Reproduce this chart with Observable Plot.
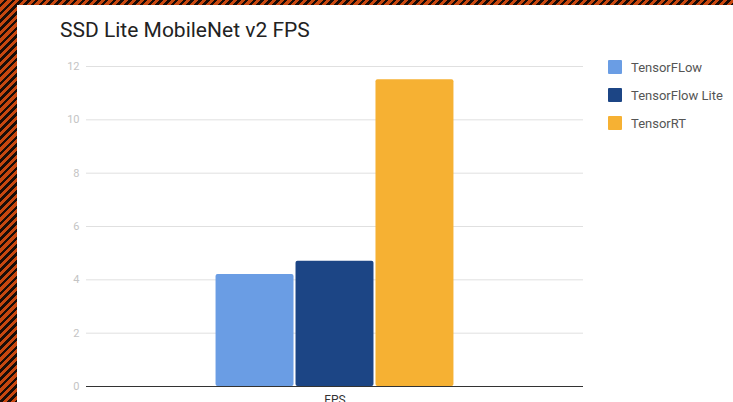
<!DOCTYPE html>
<html>
<head>
<meta charset="utf-8">
<script src="https://cdn.jsdelivr.net/npm/d3@7"></script>
<script src="https://cdn.jsdelivr.net/npm/@observablehq/plot@0.6"></script>
<style>
  html { margin: 0; padding: 0; background: #fff; width: 733px; height: 402px; overflow: hidden; }
  body {
    margin: 0; padding: 0; background: #fff;
    width: 733px; height: 402px; overflow: hidden; position: relative;
    font-family: Roboto, "Noto Sans", sans-serif;
  }
  .hatch {
    position: absolute;
    background: repeating-linear-gradient(135deg, #c8470f 0px, #c8470f 3px, #1a0d08 3px, #1a0d08 5.5px);
    background-attachment: fixed;
  }
  #hatch-left { left: 0; top: 0; width: 17px; height: 402px; }
  #hatch-top { left: 0; top: 0; width: 733px; height: 5px; }
  #panel {
    position: absolute; left: 17px; top: 5px; width: 716px; height: 397px;
    background: #fff;
  }
  #title {
    position: absolute; left: 43px; top: 13px;
    font-size: 21px; color: #222; white-space: nowrap;
  }
  #chart { position: absolute; left: 0; top: 0; }
  #legend { position: absolute; left: 591px; top: 48px; }
  .item { display: flex; align-items: center; height: 28px; font-size: 13px; color: #555; }
  .swatch { width: 14px; height: 14px; margin-right: 9px; border-radius: 1px; }
</style>
</head>
<body>
<div class="hatch" id="hatch-left"></div>
<div class="hatch" id="hatch-top"></div>
<div id="panel">
  <div id="title">SSD Lite MobileNet v2 FPS</div>
  <div id="chart"></div>
  <div id="legend"></div>
</div>
<script>
// Frames per second for each runtime
const category = "FPS";
const series = ["TensorFLow", "TensorFlow Lite", "TensorRT"];
const fps = [4.2, 4.7, 11.5];
const colors = ["#6a9de4", "#1c4585", "#f6b133"];
const yTicks = [0, 2, 4, 6, 8, 10, 12];

const rows = series.map((s, i) => ({group: category, series: s, value: fps[i]}));

const chart = Plot.plot({
  width: 716,
  height: 397,
  marginTop: 61,
  marginBottom: 16,
  marginLeft: 69,
  marginRight: 150,
  style: {background: "transparent", fontFamily: "Roboto, sans-serif", overflow: "visible"},
  fx: {domain: [category], label: null, padding: 0},
  x: {domain: series, paddingInner: 0.025, paddingOuter: 1.62, round: false, axis: null},
  y: {domain: [0, 12], label: null},
  color: {domain: series, range: colors},
  marks: [
    Plot.ruleY(yTicks.filter(d => d > 0), {stroke: "#e0e0e0", strokeWidth: 1}),
    Plot.barY(rows, {fx: "group", x: "series", y: "value", fill: "series", rx: 2}),
    Plot.ruleY([0], {stroke: "#333", strokeWidth: 1}),
    Plot.axisY({ticks: yTicks, tickSize: 0, tickPadding: 7, fontSize: 11, color: "#c4c4c4", label: null}),
    Plot.axisFx({anchor: "bottom", tickSize: 0, tickPadding: 9, fontSize: 12, color: "#333", label: null})
  ]
});
document.getElementById("chart").appendChild(chart);

const legend = document.getElementById("legend");
series.forEach((s, i) => {
  const item = document.createElement("div");
  item.className = "item";
  const sw = document.createElement("span");
  sw.className = "swatch";
  sw.style.background = colors[i];
  item.appendChild(sw);
  item.appendChild(document.createTextNode(s));
  legend.appendChild(item);
});
</script>
</body>
</html>
